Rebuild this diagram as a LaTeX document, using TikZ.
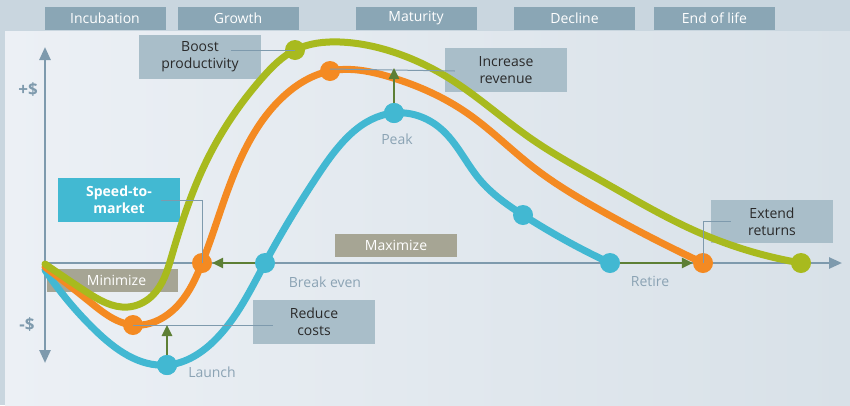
\documentclass[tikz,border=0pt]{standalone}
\usepackage{fontspec}
\setmainfont{Open Sans}
\usetikzlibrary{arrows.meta,hobby}
\definecolor{outerbg}{HTML}{C9D6DF}
\definecolor{panelL}{HTML}{ECF0F5}
\definecolor{panelR}{HTML}{D8E1E8}
\definecolor{phase}{HTML}{8AA6B5}
\definecolor{callout}{HTML}{A9BEC9}
\definecolor{khaki}{HTML}{A6A594}
\definecolor{cyanbox}{HTML}{42B9D2}
\definecolor{axisc}{HTML}{7E9AAD}
\definecolor{lbl}{HTML}{8BA3B4}
\definecolor{cgreen}{HTML}{A8BA1E}
\definecolor{corange}{HTML}{F48A22}
\definecolor{cblue}{HTML}{42B8D2}
\definecolor{agreen}{HTML}{5D7F35}
\definecolor{txt}{HTML}{2A2A2A}
\begin{document}
\begin{tikzpicture}[x=1pt,y=-1pt,font=\fontsize{14}{17}\selectfont,
  phasebox/.style={fill=phase,text=white,minimum width=121pt,minimum height=23pt,inner sep=0pt},
  callbox/.style={fill=callout,text=txt,minimum width=122pt,minimum height=44pt,inner sep=0pt,align=center},
  khakibox/.style={fill=khaki,text=white,minimum height=23pt,inner sep=0pt},
  dotstyle/.style={circle,minimum size=20pt,inner sep=0pt},
  curve/.style={line width=7pt,line cap=round,line join=round},
  leader/.style={draw=axisc,line width=1pt},
  garrow/.style={draw=agreen,line width=2.5pt,-{Triangle[length=11pt,width=10pt]}},
  axisline/.style={draw=axisc,line width=2.5pt},
  lbltxt/.style={text=lbl,inner sep=0pt},
  signtxt/.style={text=axisc,font=\fontsize{17}{20}\selectfont\bfseries,inner sep=0pt}]
% background
\fill[outerbg] (0,0) rectangle (850,405);
\shade[left color=panelL,right color=panelR] (5,31) rectangle (850,405);
\useasboundingbox (0,0) rectangle (850,405);
% phase labels
\node[phasebox] (ph1) at (105,18.5) {Incubation};
\node[phasebox] (ph2) at (238,18.5) {Growth};
\node[phasebox] (ph3) at (416,18.5) {Maturity};
\node[phasebox] (ph4) at (574.5,18.5) {Decline};
\node[phasebox] (ph5) at (714.5,18.5) {End of life};
% boxes behind the curves
\node[khakibox,minimum width=122pt] (maxi) at (396,245.5) {Maximize};
\node[khakibox,minimum width=131pt] (mini) at (112.5,280.5) {\hspace*{8pt}Minimize};
\node[callbox] (boost) at (200,57) {Boost\\productivity};
\node[callbox] (rev) at (506,70) {Increase\\revenue};
\node[callbox,fill=cyanbox,text=white,font=\fontsize{14}{17}\selectfont\bfseries] (speed) at (119,200) {Speed-to-\\market};
\node[callbox] (reduce) at (314,322) {Reduce\\costs};
\node[callbox,minimum height=43pt] (extend) at (772,221.5) {Extend\\returns};
% axes
\coordinate (o) at (45,263);
\coordinate (ytop) at (45,47);
\coordinate (ybot) at (45,363);
\coordinate (xend) at (842,263);
\draw[axisline,{Triangle[length=13pt,width=11pt]}-{Triangle[length=13pt,width=11pt]}] (ybot) -- (ytop);
\draw[axisline,-{Triangle[length=13pt,width=11pt]}] (o) -- (xend);
\node[signtxt] (plus) at (28,90) {+\$};
\node[signtxt] (minus) at (27,325) {-\$};
% curves
\draw[curve,cblue] (45,270) to[curve through={(95,330) (167,365) (217,338) (265,263) (320,172) (394,113) (440,128) (480,180) (523,215)}] (610,263);
\draw[curve,corange] (45,267) to[curve through={(90,302) (133,325) (180,303) (202,263) (240,160) (285,95) (330,71) (390,77) (467,113) (533,167) (600,210)}] (703,263);
\draw[curve,cgreen] (45,264) to[curve through={(85,291) (128,307) (152,296) (172,255) (207,160) (263,77) (295,50) (340,42) (390,51) (447,77) (533,140) (600,180) (700,233)}] (801,263);
% dots
\node[dotstyle,fill=cgreen] (gd1) at (295,50) {};
\node[dotstyle,fill=cgreen] (gd2) at (801,263) {};
\node[dotstyle,fill=corange] (od1) at (133,325) {};
\node[dotstyle,fill=corange] (od3) at (202,263) {};
\node[dotstyle,fill=corange] (od2) at (330,71) {};
\node[dotstyle,fill=corange] (od4) at (703,263) {};
\node[dotstyle,fill=cblue] (bd1) at (167,365) {};
\node[dotstyle,fill=cblue] (bd2) at (265,263) {};
\node[dotstyle,fill=cblue] (bd3) at (394,113) {};
\node[dotstyle,fill=cblue] (bd4) at (523,215) {};
\node[dotstyle,fill=cblue] (bd5) at (610,263) {};
% leader lines
\draw[leader] ([xshift=-30pt,yshift=7pt]boost.east) -- (gd1.center);
\draw[leader] (od2.center) ++(0,-2) -- ([xshift=10pt,yshift=-1pt]rev.west);
\draw[leader] ([xshift=-19pt]speed.east) -| (od3.center);
\draw[leader] (od1.center) -- ([xshift=20pt]reduce.west |- od1.center);
\draw[leader] ([xshift=20pt]extend.west) -| (od4.center);
% green arrows
\coordinate (launchtip) at (167,325);
\coordinate (peaktip) at (394,68);
\draw[garrow] (bd1.center) -- (launchtip);
\draw[garrow] (bd3.center) -- (peaktip);
\draw[garrow] (bd2) -- (od3);
\draw[garrow] (bd5) -- (od4);
\node[dotstyle,fill=cblue] at (bd1) {};
\node[dotstyle,fill=cblue] at (bd3) {};
% point labels
\node[lbltxt] (peak) at (397,139) {Peak};
\node[lbltxt] (be) at (325,282) {Break even};
\node[lbltxt] (launch) at (212,372) {Launch};
\node[lbltxt] (retire) at (650,281) {Retire};
\end{tikzpicture}
\end{document}
